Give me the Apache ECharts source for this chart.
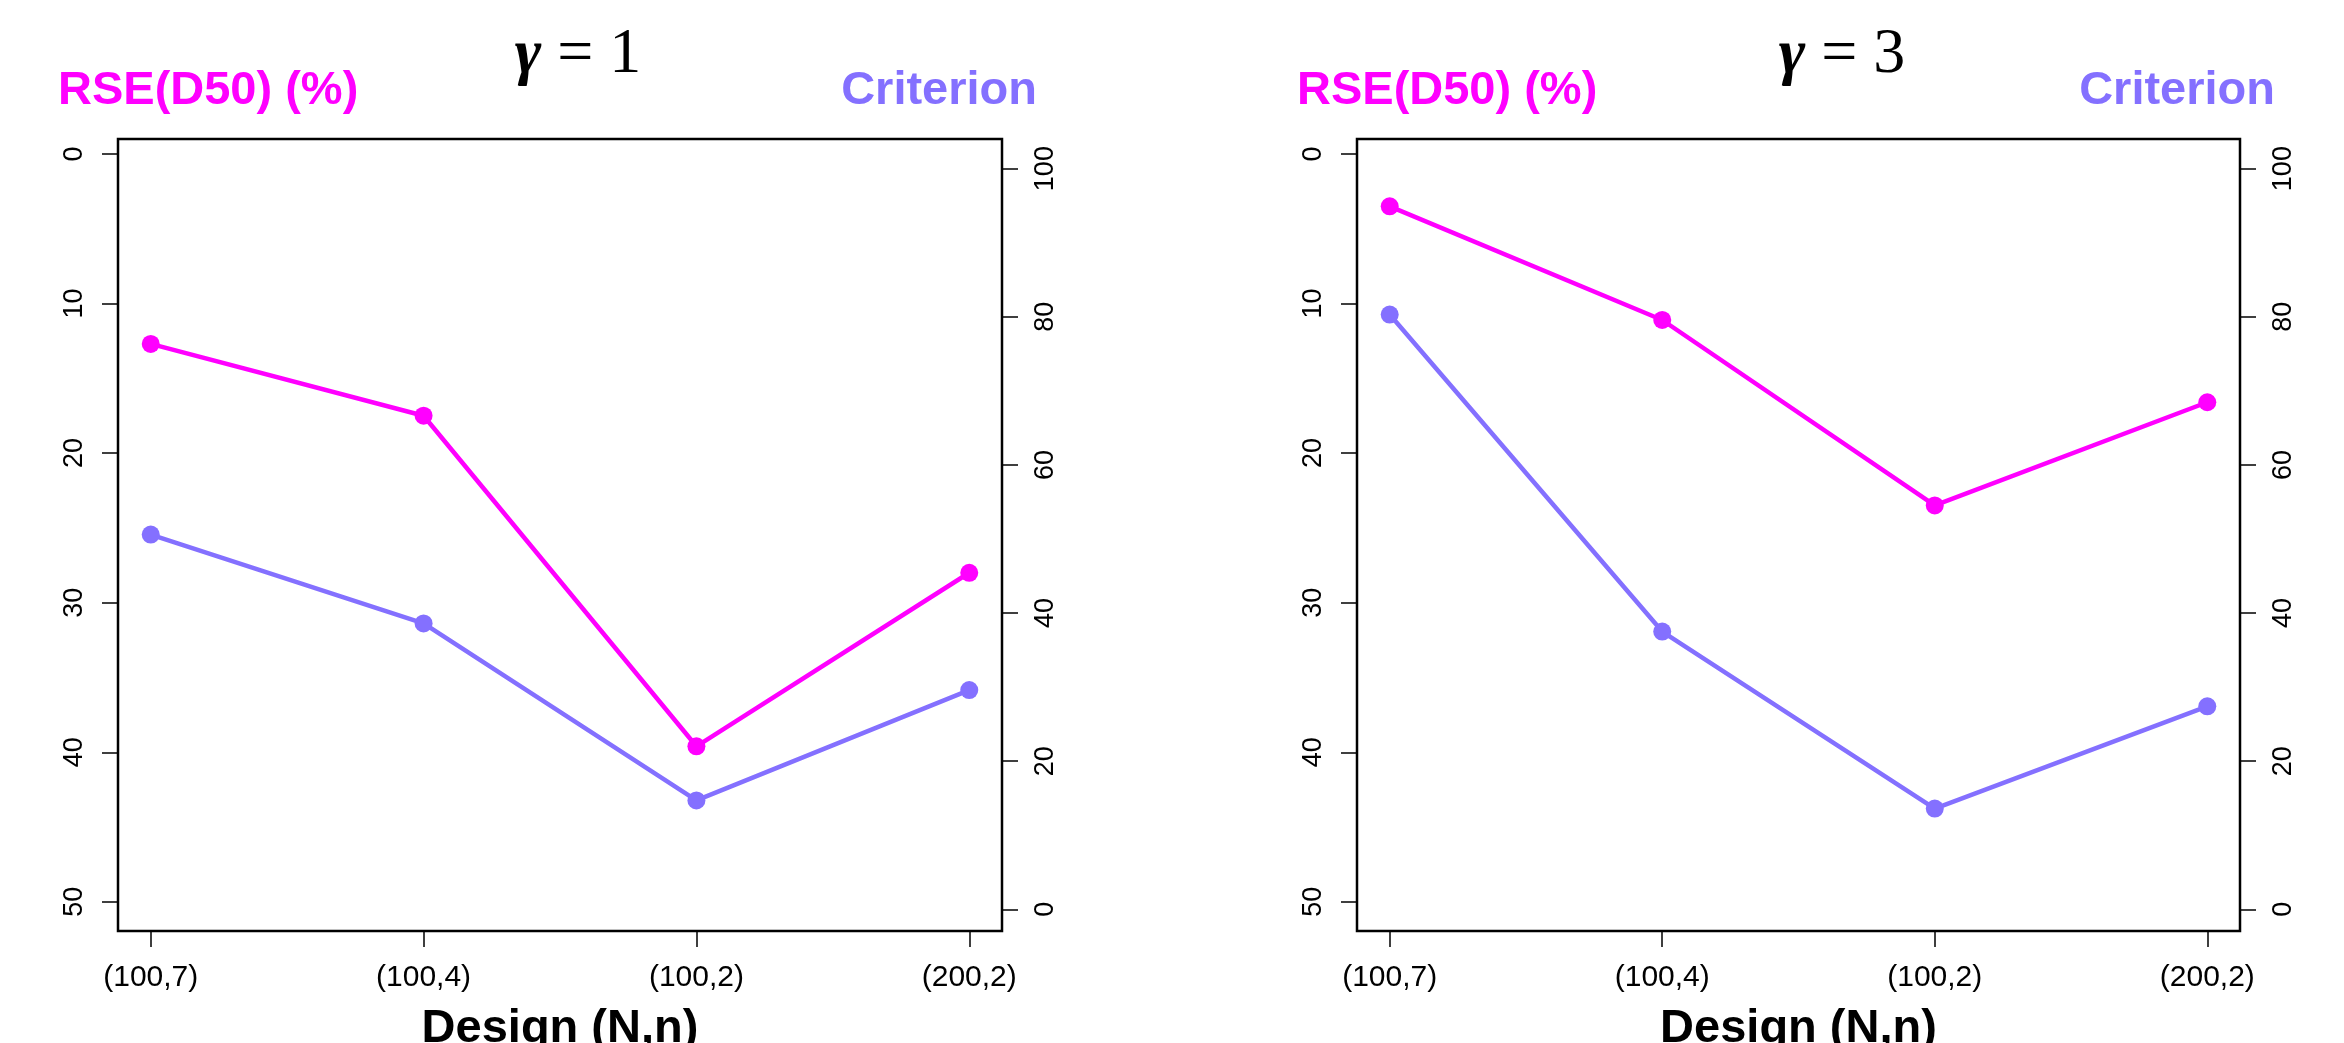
<!DOCTYPE html>
<html>
<head>
<meta charset="utf-8">
<script src="https://cdn.jsdelivr.net/npm/echarts@6/dist/echarts.min.js"></script>
<style>
  html, body { margin: 0; padding: 0; background: #fff; }
  #main { width: 2344px; height: 1043px; }
</style>
</head>
<body>
<div id="main"></div>
<script>
// designs on the x axis
var designs = ['(100,7)', '(100,4)', '(100,2)', '(200,2)'];
var designPos = [1, 2, 3, 4];

// gamma = 1
var rseGamma1 = [12.7, 17.5, 39.6, 28.0];
var critGamma1 = [50.6, 38.6, 14.7, 29.6];
// gamma = 3
var rseGamma3 = [3.5, 11.1, 23.5, 16.6];
var critGamma3 = [80.3, 37.5, 13.6, 27.4];

// tick labels
var rseTicks = [0, 10, 20, 30, 40, 50];
var critTicks = [0, 20, 40, 60, 80, 100];

var MAGENTA = '#FF00FF';
var PURPLE = '#8470FF';
var FONT = 'Liberation Sans';

function pairs(vals) {
    var out = [];
    for (var i = 0; i < vals.length; i++) {
        out.push([designPos[i], vals[i]]);
    }
    return out;
}

function makeX(gridIndex) {
    return {
        type: 'value',
        gridIndex: gridIndex,
        position: 'bottom',
        min: 0.88,
        max: 4.12,
        name: 'Design (N,n)',
        nameLocation: 'middle',
        nameGap: 75,
        nameTextStyle: { fontFamily: FONT, fontWeight: 'bold', fontSize: 47, color: '#000' },
        axisLine: { show: false, onZero: false },
        splitLine: { show: false },
        axisTick: { show: true, length: 16, customValues: designPos, lineStyle: { color: '#000', width: 1.5 } },
        axisLabel: {
            show: true, margin: 32, fontFamily: FONT, fontSize: 30, color: '#000',
            customValues: designPos,
            formatter: function (v) { return designs[Math.round(v) - 1]; }
        }
    };
}

function makeY(gridIndex, pos, min, max, ticks, inverse) {
    return {
        type: 'value',
        gridIndex: gridIndex,
        position: pos,
        inverse: inverse,
        min: min,
        max: max,
        axisLine: { show: false, onZero: false },
        splitLine: { show: false },
        axisTick: { show: true, length: 16, customValues: ticks, lineStyle: { color: '#000', width: 1.5 } },
        axisLabel: {
            show: true, rotate: 90, margin: 30, fontFamily: FONT, fontSize: 27, color: '#000',
            customValues: ticks
        }
    };
}

function lineSeries(name, xi, yi, vals, color) {
    return {
        name: name,
        type: 'line',
        xAxisIndex: xi,
        yAxisIndex: yi,
        data: pairs(vals),
        symbol: 'circle',
        symbolSize: 18,
        lineStyle: { color: color, width: 4.5 },
        itemStyle: { color: color },
        z: 3
    };
}

function headText(x, y, text, color, align) {
    return {
        type: 'text', x: x, y: y,
        style: {
            text: text, fill: color, align: align, verticalAlign: 'middle',
            font: 'bold 47px "Liberation Sans"'
        }
    };
}

function gammaText(x, g) {
    return {
        type: 'text', x: x, y: 55,
        style: {
            text: '{g|γ} = ' + g, fill: '#000', align: 'center', verticalAlign: 'middle',
            font: '64px "Liberation Serif"',
            rich: {
                g: { fontFamily: 'Liberation Serif', fontStyle: 'italic', fontWeight: 'bold', fontSize: 64, fill: '#000' }
            }
        }
    };
}

var gridBase = {
    top: 139, height: 792, show: true, borderColor: '#000', borderWidth: 2.5,
    backgroundColor: 'transparent', containLabel: false, outerBoundsMode: 'none'
};

var option = {
    backgroundColor: '#fff',
    animation: false,
    grid: [
        Object.assign({ left: 118, width: 884 }, gridBase),
        Object.assign({ left: 1357, width: 883 }, gridBase)
    ],
    xAxis: [makeX(0), makeX(1)],
    yAxis: [
        makeY(0, 'left', -1.0, 51.95, rseTicks, true),
        makeY(0, 'right', -2.93, 104.0, critTicks, false),
        makeY(1, 'left', -1.0, 51.95, rseTicks, true),
        makeY(1, 'right', -2.93, 104.0, critTicks, false)
    ],
    series: [
        lineSeries('RSE g1', 0, 0, rseGamma1, MAGENTA),
        lineSeries('Crit g1', 0, 1, critGamma1, PURPLE),
        lineSeries('RSE g3', 1, 2, rseGamma3, MAGENTA),
        lineSeries('Crit g3', 1, 3, critGamma3, PURPLE)
    ],
    graphic: [
        headText(58, 91, 'RSE(D50) (%)', MAGENTA, 'left'),
        headText(1037, 91, 'Criterion', PURPLE, 'right'),
        headText(1297, 91, 'RSE(D50) (%)', MAGENTA, 'left'),
        headText(2275, 91, 'Criterion', PURPLE, 'right'),
        gammaText(578, 1),
        gammaText(1842, 3)
    ]
};

var myChart = echarts.init(document.getElementById('main'), null, { renderer: 'canvas' });
myChart.setOption(option);
</script>
</body>
</html>
